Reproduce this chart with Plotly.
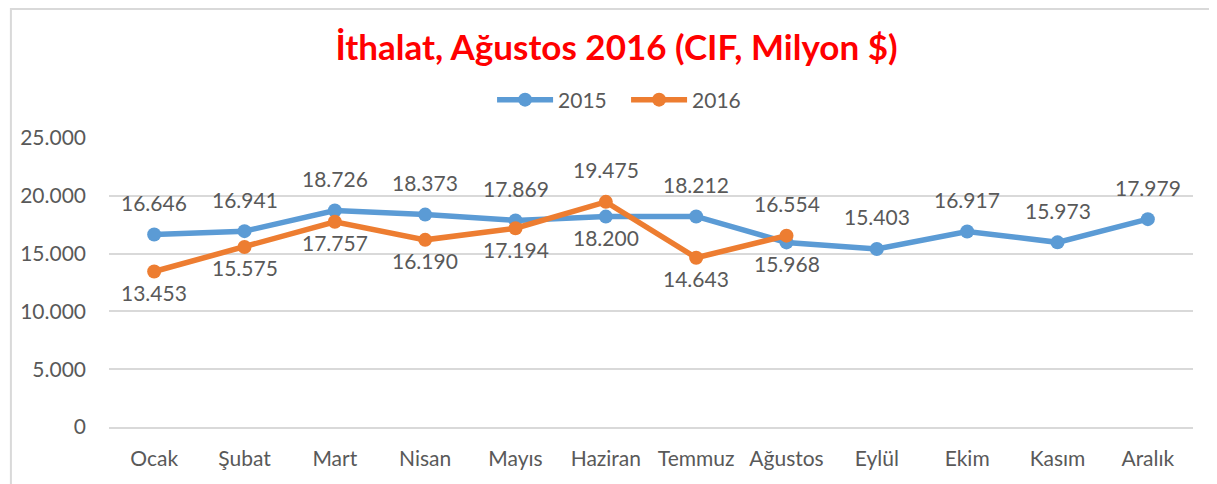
import plotly.graph_objects as go

months = ['Ocak', 'Şubat', 'Mart', 'Nisan', 'Mayıs', 'Haziran', 'Temmuz',
          'Ağustos', 'Eylül', 'Ekim', 'Kasım', 'Aralık']
imports_2015 = [16646, 16941, 18726, 18373, 17869, 18200, 18212, 15968,
                15403, 16917, 15973, 17979]
imports_2016 = [13453, 15575, 17757, 16190, 17194, 19475, 14643, 16554]
y_ticks = [0, 5000, 10000, 15000, 20000, 25000]
y_tick_text = ['0', '5.000', '10.000', '15.000', '20.000', '25.000']

# label above (True) or below (False) the point
above_2015 = [True, True, True, True, True, False, True, False,
              True, True, True, True]
above_2016 = [False, False, False, False, False, True, False, True]

BLUE = '#5B9BD5'
ORANGE = '#ED7D31'
GREY_TEXT = '#595959'
FONT = 'Lato, Calibri, sans-serif'


def fmt(v):
    return f'{v:,}'.replace(',', '.')


fig = go.Figure()

fig.add_trace(go.Scatter(
    x=months, y=imports_2015, name='2015', mode='lines+markers',
    line=dict(color=BLUE, width=5.5), marker=dict(size=14, color=BLUE),
))
fig.add_trace(go.Scatter(
    x=months[:len(imports_2016)], y=imports_2016, name='2016', mode='lines+markers',
    line=dict(color=ORANGE, width=5.5), marker=dict(size=14, color=ORANGE),
))

annotations = []
for values, above in ((imports_2015, above_2015), (imports_2016, above_2016)):
    for m, v, up in zip(months, values, above):
        annotations.append(dict(
            x=m, y=v, text=fmt(v), showarrow=False,
            yshift=32 if up else -21,
            font=dict(size=21, color=GREY_TEXT, family=FONT),
        ))

fig.update_layout(
    width=1217, height=484,
    margin=dict(l=99, r=32, t=130, b=65),
    paper_bgcolor='white', plot_bgcolor='white',
    font=dict(family=FONT, size=21, color=GREY_TEXT),
    title=dict(
        text='<b>İthalat, Ağustos 2016 (CIF, Milyon $)</b>',
        x=0.5, xanchor='center', y=0.917, yanchor='middle',
        font=dict(size=35, color='#FF0000', family=FONT),
    ),
    legend=dict(
        orientation='h', x=0.477, xanchor='center', y=1.1315, yanchor='middle',
        font=dict(size=21, color=GREY_TEXT), itemwidth=56,
        entrywidth=63, entrywidthmode='pixels',
    ),
    annotations=annotations,
    shapes=[dict(
        type='rect', xref='paper', yref='paper',
        x0=-0.0905, x1=1.2, y0=-0.5, y1=1.4465,
        line=dict(color='#D9D9D9', width=2), layer='below',
    )],
    showlegend=True,
)

fig.update_xaxes(
    type='category', range=[-0.5, 11.5], showgrid=False,
    showline=True, linecolor='#D9D9D9', linewidth=1.5,
    ticks='', ticklabelstandoff=12,
)
fig.update_yaxes(
    range=[0, 25000], tickvals=y_ticks, ticktext=y_tick_text,
    showgrid=True, gridcolor='#D9D9D9', gridwidth=1.5,
    zeroline=False, showline=False, ticks='', ticklabelstandoff=22,
)

fig.write_html('out.html')
